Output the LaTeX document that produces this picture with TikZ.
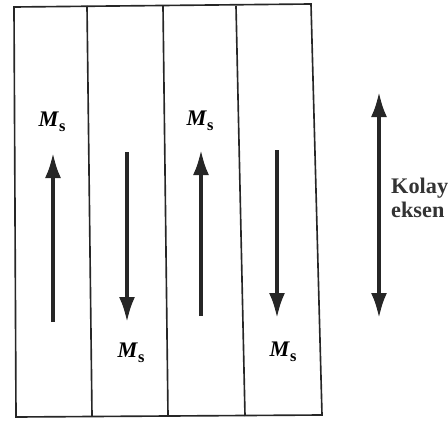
\documentclass[tikz,border=0pt]{standalone}
\usepackage{fontspec}
\setmainfont{Liberation Serif}
\usetikzlibrary{arrows.meta}

\tikzset{
    wall/.style={line width=1.4pt, draw=black!85},
    magarrow/.style={line width=3pt, draw=black!85, -{Latex[length=7.5mm,width=4.8mm]}},
    msnode/.style={font=\fontsize{19}{20}\selectfont\bfseries},
    axisnode/.style={font=\fontsize{19}{20}\selectfont\bfseries, anchor=base west, text=black!80, inner sep=0pt},
}
\newcommand{\Ms}{\textit{M}\raisebox{-0.45ex}{\fontsize{14}{14}\selectfont s}}

\begin{document}
\begin{tikzpicture}[x=0.03cm, y=-0.03cm]
    \useasboundingbox (0,0) rectangle (448,423);
    % domains
    \draw[wall] (14,7) -- (311,4) -- (322,415) -- (16,417) -- cycle;
    \foreach \xt/\xb in {87/92, 163/168, 236/245} {
        \draw[wall] (\xt,6) -- (\xb,416);
    }
    % magnetisation
    \coordinate (up1a) at (53,322);  \coordinate (up1b) at (53,153);
    \coordinate (dn1a) at (127,152); \coordinate (dn1b) at (127,322);
    \coordinate (up2a) at (201,316); \coordinate (up2b) at (201,150);
    \coordinate (dn2a) at (277,150); \coordinate (dn2b) at (277,318);
    \draw[magarrow] (up1a) -- (up1b);
    \draw[magarrow] (dn1a) -- (dn1b);
    \draw[magarrow] (up2a) -- (up2b);
    \draw[magarrow] (dn2a) -- (dn2b);
    \node[msnode] (ms1) at (52,122) {\Ms};
    \node[msnode] (ms2) at (131,353) {\Ms};
    \node[msnode] (ms3) at (200,121) {\Ms};
    \node[msnode] (ms4) at (283,352) {\Ms};
    % easy axis
    \coordinate (ax1) at (379,318);
    \coordinate (ax2) at (379,92);
    \draw[magarrow, {Latex[length=7.5mm,width=4.8mm]}-{Latex[length=7.5mm,width=4.8mm]}] (ax1) -- (ax2);
    \node[axisnode] (kolay) at (391,193) {Kolay};
    \node[axisnode] (eksen) at (391,217) {eksen};
\end{tikzpicture}
\end{document}
